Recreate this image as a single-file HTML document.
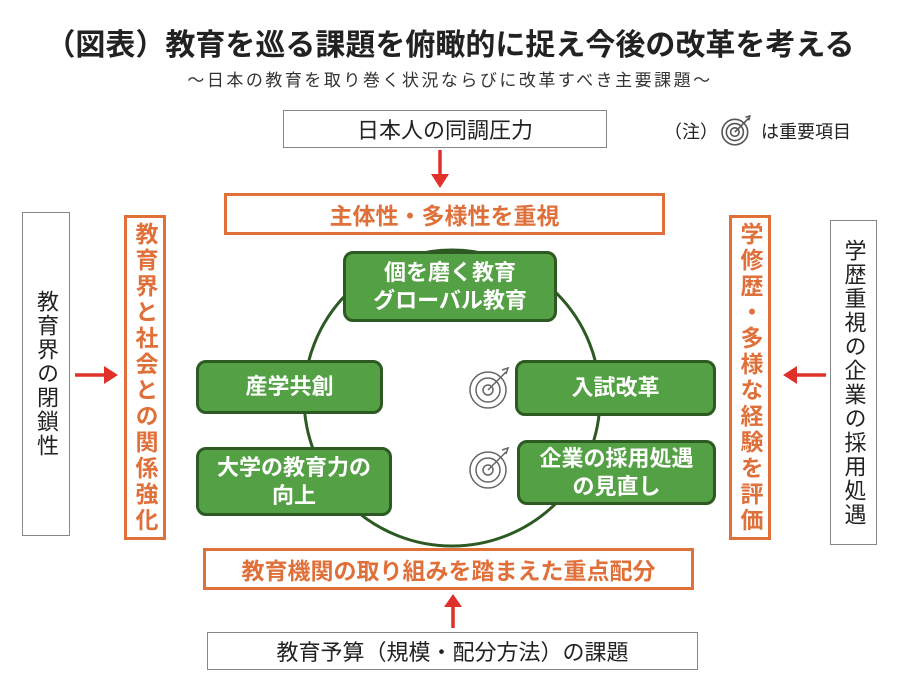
<!DOCTYPE html>
<html><head><meta charset="utf-8"><style>
body{margin:0;width:900px;height:700px;background:#fff;position:relative;overflow:hidden;font-family:"Liberation Sans","Noto Sans CJK JP",sans-serif;}
.a{position:absolute;box-sizing:border-box;display:flex;align-items:center;justify-content:center;text-align:center;}
.g{border:1.5px solid #888;color:#222;font-size:22px;background:#fff;}
.o{border:3px solid #e0703a;color:#e0703a;font-weight:bold;font-size:23px;background:#fff;}
.v{writing-mode:vertical-rl;letter-spacing:2px;}
.gr{background:#54a044;border:3px solid #2d5a23;border-radius:10px;color:#fff;font-weight:bold;font-size:22px;line-height:1.25;}
</style></head><body>
<div class="a" style="left:0;top:20px;width:900px;height:44px;font-size:30px;font-weight:bold;color:#222;">（図表）教育を巡る課題を俯瞰的に捉え今後の改革を考える</div>
<div class="a" style="left:0;top:66px;width:900px;height:24px;font-size:17px;color:#333;letter-spacing:2.5px;">～日本の教育を取り巻く状況ならびに改革すべき主要課題～</div>
<div class="a" style="left:664px;top:116px;width:220px;height:30px;font-size:18px;color:#222;justify-content:flex-start;">（注）<svg width="38" height="32" viewBox="0 0 34 30"><g fill="none" stroke="#555" stroke-width="1.5"><circle cx="15" cy="16" r="12"/><circle cx="15" cy="16" r="8"/><circle cx="15" cy="16" r="4"/><path d="M15 16 L28 3 M25 2 l4 -1 -1 4"/></g></svg>&nbsp;は重要項目</div>
<svg class="a" style="left:0;top:0" width="900" height="700">
<circle cx="452" cy="398" r="148" fill="none" stroke="#2d5a23" stroke-width="3"/>
<g stroke="#e0302a" stroke-width="3.5" fill="#e0302a">
<line x1="440" y1="150" x2="440" y2="178"/><polygon points="431,174 449,174 440,188" stroke="none"/>
<line x1="453" y1="628" x2="453" y2="604"/><polygon points="444,607 462,607 453,594" stroke="none"/>
<line x1="75" y1="375" x2="108" y2="375"/><polygon points="104,366 104,384 118,375" stroke="none"/>
<line x1="826" y1="375" x2="793" y2="375"/><polygon points="797,366 797,384 783,375" stroke="none"/>
</g>
<g fill="none" stroke="#666" stroke-width="1.5">
<circle cx="488" cy="390" r="18"/><circle cx="488" cy="390" r="12"/><circle cx="488" cy="390" r="5"/><path d="M488 390 L506 372 M502 370 l6 -2 -2 6"/>
<circle cx="488" cy="470" r="18"/><circle cx="488" cy="470" r="12"/><circle cx="488" cy="470" r="5"/><path d="M488 470 L506 452 M502 450 l6 -2 -2 6"/>
</g>
</svg>
<div class="a g" style="left:283px;top:110px;width:324px;height:38px;">日本人の同調圧力</div>
<div class="a g" style="left:207px;top:632px;width:491px;height:38px;">教育予算（規模・配分方法）の課題</div>
<div class="a g v" style="left:22px;top:212px;width:48px;height:324px;">教育界の閉鎖性</div>
<div class="a g v" style="left:830px;top:220px;width:47px;height:325px;">学歴重視の企業の採用処遇</div>
<div class="a o" style="left:224px;top:193px;width:441px;height:42px;">主体性・多様性を重視</div>
<div class="a o" style="left:203px;top:548px;width:491px;height:42px;">教育機関の取り組みを踏まえた重点配分</div>
<div class="a o v" style="left:124px;top:215px;width:42px;height:325px;letter-spacing:3px;">教育界と社会との関係強化</div>
<div class="a o v" style="left:729px;top:215px;width:42px;height:325px;letter-spacing:3px;">学修歴・多様な経験を評価</div>
<div class="a gr" style="left:343px;top:251px;width:214px;height:71px;">個を磨く教育<br>グローバル教育</div>
<div class="a gr" style="left:196px;top:360px;width:187px;height:54px;">産学共創</div>
<div class="a gr" style="left:196px;top:447px;width:196px;height:69px;">大学の教育力の<br>向上</div>
<div class="a gr" style="left:515px;top:360px;width:201px;height:56px;">入試改革</div>
<div class="a gr" style="left:517px;top:440px;width:199px;height:65px;">企業の採用処遇<br>の見直し</div>
</body></html>
